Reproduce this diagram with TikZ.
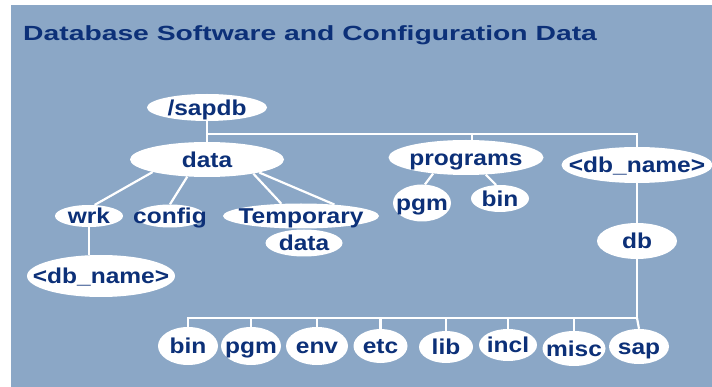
\documentclass[tikz,border=0pt]{standalone}
\usepackage{fontspec}
\usepackage{graphicx}
\setmainfont{Liberation Sans}
\usetikzlibrary{shapes.geometric,backgrounds}
\definecolor{bgblue}{RGB}{139,167,198}
\definecolor{navy}{RGB}{12,48,120}
\tikzset{
  txt/.style={text=navy, font=\fontsize{21.5}{25}\selectfont\bfseries, inner sep=0pt, text height=15.4pt, text depth=0pt},
  bub/.style n args={3}{ellipse, fill=white, draw=none, inner sep=0pt,
    minimum width=#1, minimum height=#2, label={[txt]center:{\scalebox{1.14}[1]{#3}}}},
  conn/.style={white, line width=2.2pt}
}
\begin{document}
\begin{tikzpicture}[x=1pt,y=-1pt]
\useasboundingbox (0,0) rectangle (712,387);
% title
\node[anchor=base west, text=navy, font=\fontsize{20.5}{24}\selectfont\bfseries, inner sep=0pt] (title) at (23,41) {\scalebox{1.38}[1]{Database Software and Configuration Data}};
% nodes
\node[bub={120pt}{27pt}{/sapdb}] (sapdb) at (207,107.5) {};
\node[bub={154pt}{35pt}{data}] (data) at (207,159.5) {};
\node[bub={68pt}{22pt}{wrk}] (wrk) at (89,216) {};
\node[bub={70pt}{23pt}{config}] (config) at (170,216) {};
\node[bub={156pt}{25pt}{Temporary}] (temp) at (301,216) {};
\node[bub={77pt}{27pt}{data}] (tdata) at (304,243) {};
\node[bub={148pt}{42pt}{<db\_name>}] (wdb) at (101,276) {};
\node[bub={155pt}{35pt}{programs}] (programs) at (466,157.5) {};
\node[bub={58pt}{37pt}{pgm}] (ppgm) at (422,203) {};
\node[bub={58pt}{27pt}{bin}] (pbin) at (500,198.5) {};
\node[bub={151pt}{36pt}{<db\_name>}] (dbn) at (637,165) {};
\node[bub={80pt}{36pt}{db}] (db) at (637,241) {};
\node[bub={60pt}{38pt}{bin}] (b1) at (188,346) {};
\node[bub={60pt}{38pt}{pgm}] (b2) at (251,346) {};
\node[bub={62pt}{38pt}{env}] (b3) at (317,346) {};
\node[bub={54pt}{34pt}{etc}] (b4) at (380.5,346) {};
\node[bub={54pt}{32pt}{lib}] (b5) at (446,347) {};
\node[bub={58pt}{32pt}{incl}] (b6) at (508,345) {};
\node[bub={63pt}{35pt}{misc}] (b7) at (574,348.5) {};
\node[bub={60pt}{35pt}{sap}] (b8) at (639,346.5) {};
% junctions
\coordinate (j1) at (207,134);
\coordinate (j2) at (637,134);
\coordinate (j3) at (472,134);
\coordinate (bl) at (188,318);
\coordinate (br) at (637,318);
\begin{pgfonlayer}{background}
\fill[white] (0,0) rectangle (712,387);
\fill[bgblue] (11,5.5) rectangle (712,387);
\draw[conn] (sapdb) -- (data);
\draw[conn] (j1) -- (j2) -- (dbn.north);
\draw[conn] (j3) -- (j3 |- programs.north);
\draw[conn] (data.193) -- (wrk.63);
\draw[conn] (data.221) -- (config.north);
\draw[conn] (data.343) -- (temp.148);
\draw[conn] (data.346) -- (temp.19);
\draw[conn] (wrk.south) -- (wrk.south |- wdb.north);
\draw[conn] (programs.206) -- (ppgm.81);
\draw[conn] (programs.319) -- (pbin.106);
\draw[conn] (dbn.south) -- (db.north);
\draw[conn] (db.south) -- (br) -- (bl) -- (b1.north);
\foreach \n in {b2,b3,b4,b5,b6,b7}{
  \draw[conn] (\n.north |- br) -- (\n.north);
}
\draw[conn] (br) -- (b8.north);
\end{pgfonlayer}
\end{tikzpicture}
\end{document}
